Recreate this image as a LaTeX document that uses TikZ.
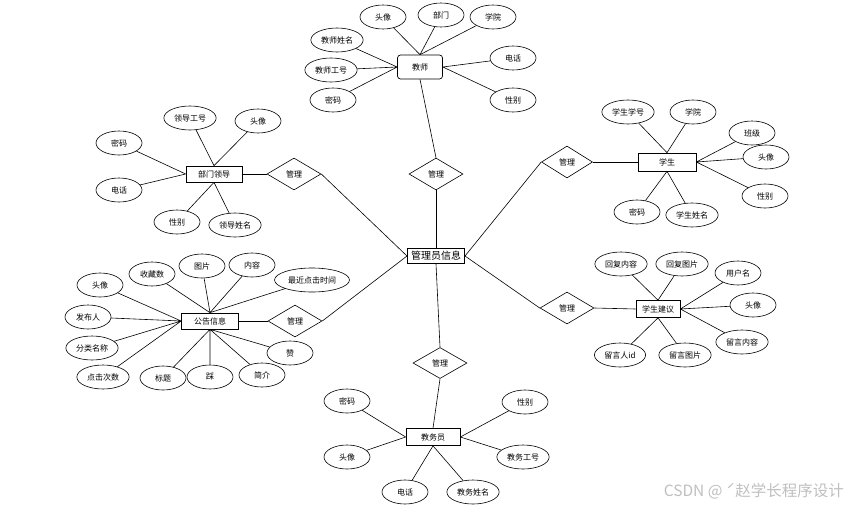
\documentclass[tikz,border=0pt]{standalone}
\usepackage{fontspec}
\setmainfont{Noto Sans CJK SC}
\usepackage{xcolor}
\usetikzlibrary{shapes.geometric, arrows.meta, positioning, calc}
\tikzset{
    attr/.style={ellipse, draw=black, line width=0.6pt, fill=white, minimum width=46pt, minimum height=24pt, inner sep=2.5pt, font=\fontsize{8}{9}\selectfont},
    entity/.style={rectangle, draw=black, line width=0.7pt, fill=white, minimum height=17pt, inner sep=2pt, font=\fontsize{8}{9}\selectfont},
    relation/.style={diamond, draw=black, line width=0.6pt, fill=white, minimum width=54pt, minimum height=32pt, inner sep=1pt, font=\fontsize{8}{9}\selectfont},
    link/.style={line width=0.6pt, color=black}
}
\begin{document}
\begin{tikzpicture}[x=1pt, y=-1pt]
    \useasboundingbox (0,0) rectangle (850,506);

    % centre
    \node (admin) [entity, minimum width=57pt, minimum height=15pt, line width=1pt, font=\fontsize{10}{11}\selectfont] at (436,256) {管理员信息};

    % teacher
    \node (teacher) [entity, rounded corners=3pt, minimum width=45pt, minimum height=24pt] at (420,67) {教师};
    \node (mgrTeacher) [relation] at (436,174) {管理};
    \node (tAvatar) [attr] at (383,17) {头像};
    \node (tDept) [attr] at (441,15) {部门};
    \node (tCollege) [attr] at (493,17) {学院};
    \node (tName) [attr] at (337,40) {教师姓名};
    \node (tId) [attr] at (331,70) {教师工号};
    \node (tPwd) [attr] at (333,100) {密码};
    \node (tPhone) [attr] at (513,58) {电话};
    \node (tSex) [attr] at (513,100) {性别};

    % department leader
    \node (leader) [entity, minimum width=56pt, minimum height=16pt] at (214,174) {部门领导};
    \node (mgrLeader) [relation] at (294,174) {管理};
    \node (lId) [attr] at (190,118) {领导工号};
    \node (lAvatar) [attr] at (258,121) {头像};
    \node (lPwd) [attr] at (119,143) {密码};
    \node (lPhone) [attr] at (119,190) {电话};
    \node (lSex) [attr] at (177,222) {性别};
    \node (lName) [attr] at (235,225) {领导姓名};

    % student
    \node (student) [entity, minimum width=58pt, minimum height=18pt] at (667,162) {学生};
    \node (mgrStudent) [relation, minimum width=51pt] at (567,162) {管理};
    \node (sNo) [attr] at (628,112) {学生学号};
    \node (sCollege) [attr] at (693,112) {学院};
    \node (sClass) [attr] at (752,133) {班级};
    \node (sAvatar) [attr] at (766,157) {头像};
    \node (sSex) [attr] at (765,196) {性别};
    \node (sPwd) [attr] at (637,212) {密码};
    \node (sName) [attr] at (692,215) {学生姓名};

    % student suggestion
    \node (advice) [entity, minimum width=44pt, minimum height=17pt] at (658,309) {学生建议};
    \node (mgrAdvice) [relation] at (567,308) {管理};
    \node (aReply) [attr] at (621,264) {回复内容};
    \node (aReplyPic) [attr] at (682,264) {回复图片};
    \node (aUser) [attr] at (738,273) {用户名};
    \node (aAvatar) [attr] at (753,305) {头像};
    \node (aText) [attr] at (742,342) {留言内容};
    \node (aUid) [attr] at (620,355) {留言人id};
    \node (aPic) [attr] at (685,355) {留言图片};

    % notice
    \node (notice) [entity, minimum width=57pt, minimum height=16pt] at (210,321) {公告信息};
    \node (mgrNotice) [relation] at (295,321) {管理};
    \node (nAvatar) [attr] at (100,285) {头像};
    \node (nAuthor) [attr] at (88,317) {发布人};
    \node (nType) [attr] at (92,348) {分类名称};
    \node (nClicks) [attr] at (103,377) {点击次数};
    \node (nFav) [attr] at (152,274) {收藏数};
    \node (nPic) [attr] at (202,266) {图片};
    \node (nText) [attr] at (252,265) {内容};
    \node (nLast) [attr] at (312,280) {最近点击时间};
    \node (nTitle) [attr] at (163,378) {标题};
    \node (nDown) [attr] at (210,377) {踩};
    \node (nIntro) [attr] at (262,375) {简介};
    \node (nUp) [attr] at (290,353) {赞};

    % academic staff
    \node (staff) [entity, minimum width=54pt, minimum height=17pt] at (433,437) {教务员};
    \node (mgrStaff) [relation, minimum height=31pt] at (440,363) {管理};
    \node (fPwd) [attr] at (347,401) {密码};
    \node (fAvatar) [attr] at (347,457) {头像};
    \node (fPhone) [attr] at (405,492) {电话};
    \node (fName) [attr] at (473,492) {教务姓名};
    \node (fSex) [attr] at (525,402) {性别};
    \node (fId) [attr] at (523,457) {教务工号};

    % relations
    \draw [link] (teacher.south) -- (mgrTeacher.north);
    \draw [link] (mgrTeacher.south) -- (admin.north);
    \draw [link] (leader.east) -- (mgrLeader.west);
    \draw [link] (mgrLeader.east) -- (admin.west);
    \draw [link] (student.west) -- (mgrStudent.east);
    \draw [link] (mgrStudent.west) -- (admin.east);
    \draw [link] (advice.west) -- (mgrAdvice.east);
    \draw [link] (mgrAdvice.west) -- (admin.east);
    \draw [link] (notice.east) -- (mgrNotice.west);
    \draw [link] (mgrNotice.east) -- (admin.west);
    \draw [link] (admin.south) -- (mgrStaff.north);
    \draw [link] (mgrStaff.south) -- (staff.north);

    % attributes
    \draw [link] (teacher.north) -- (tAvatar) (teacher.north) -- (tDept) (teacher.north) -- (tCollege);
    \draw [link] (teacher.west) -- (tName) (teacher.west) -- (tId) (teacher.west) -- (tPwd);
    \draw [link] (teacher.east) -- (tPhone) (teacher.east) -- (tSex);

    \draw [link] (leader.north) -- (lId) (leader.north) -- (lAvatar);
    \draw [link] (leader.west) -- (lPwd) (leader.west) -- (lPhone);
    \draw [link] (leader.south) -- (lSex) (leader.south) -- (lName);

    \draw [link] (student.north) -- (sNo) (student.north) -- (sCollege);
    \draw [link] (student.east) -- (sClass) (student.east) -- (sAvatar) (student.east) -- (sSex);
    \draw [link] (student.south) -- (sPwd) (student.south) -- (sName);

    \draw [link] (advice.north) -- (aReply) (advice.north) -- (aReplyPic);
    \draw [link] (advice.east) -- (aUser) (advice.east) -- (aAvatar) (advice.east) -- (aText);
    \draw [link] (advice.south) -- (aUid) (advice.south) -- (aPic);

    \draw [link] (notice.west) -- (nAvatar) (notice.west) -- (nAuthor) (notice.west) -- (nType) (notice.west) -- (nClicks);
    \draw [link] (notice.north) -- (nFav) (notice.north) -- (nPic) (notice.north) -- (nText) (notice.north) -- (nLast);
    \draw [link] (notice.south) -- (nTitle) (notice.south) -- (nDown) (notice.south) -- (nIntro) (notice.south) -- (nUp);

    \draw [link] (staff.west) -- (fPwd) (staff.west) -- (fAvatar);
    \draw [link] (staff.south) -- (fPhone) (staff.south) -- (fName);
    \draw [link] (staff.east) -- (fSex) (staff.east) -- (fId);

    % watermark
    \node (mark) [text=black!25, font=\fontsize{15.5}{16}\selectfont, anchor=east, inner sep=0pt] at (844,491) {CSDN @ ˊ赵学长程序设计};
\end{tikzpicture}
\end{document}
